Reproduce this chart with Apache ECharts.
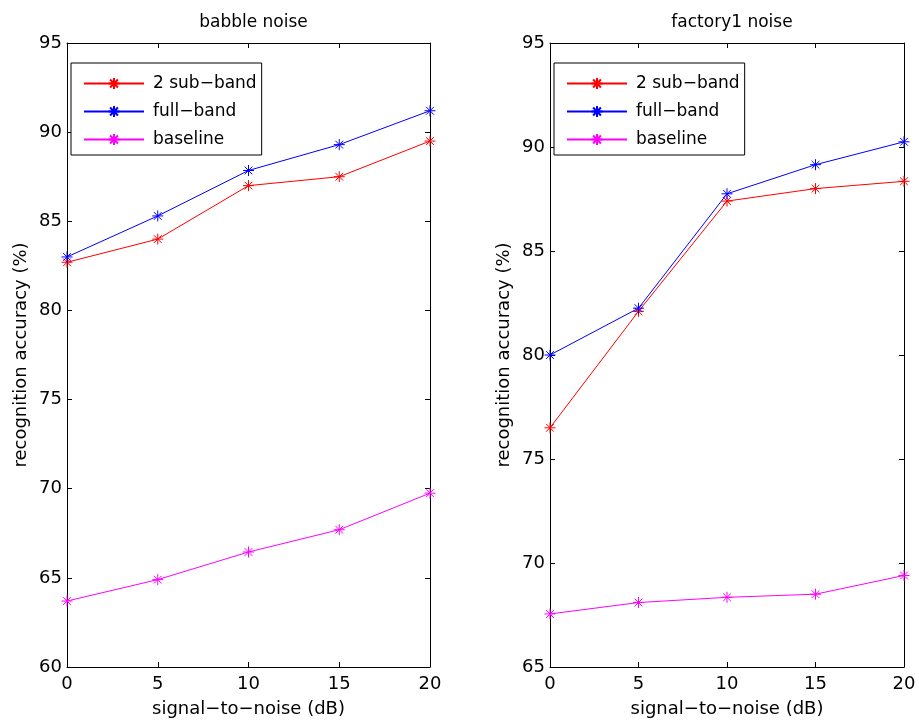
<!DOCTYPE html>
<html>
<head>
<meta charset="utf-8">
<script src="https://cdn.jsdelivr.net/npm/echarts@6/dist/echarts.min.js"></script>
<style>
  html, body { margin: 0; padding: 0; background: #fff; }
  #chart { width: 919px; height: 724px; }
</style>
</head>
<body>
<div id="chart"></div>
<script>
// SNR levels (dB) shared by both panels
const snr = [0, 5, 10, 15, 20];

// babble noise panel
const babbleSubBand  = [82.7, 84.0, 87.0, 87.5, 89.5];
const babbleFullBand = [83.0, 85.3, 87.85, 89.3, 91.2];
const babbleBaseline = [63.7, 64.9, 66.45, 67.7, 69.75];

// factory1 noise panel
const factorySubBand  = [76.5, 82.1, 87.4, 88.0, 88.35];
const factoryFullBand = [80.0, 82.25, 87.75, 89.15, 90.25];
const factoryBaseline = [67.55, 68.1, 68.35, 68.5, 69.4];

const seriesNames = ['2 sub\u2212band', 'full\u2212band', 'baseline'];
const seriesColors = ['#ff0000', '#0000ff', '#ff00ff'];
const panelTitles = ['babble noise', 'factory1 noise'];
const xLabel = 'signal\u2212to\u2212noise (dB)';
const yLabel = 'recognition accuracy (%)';

// eight-spoke asterisk marker
const asterisk = 'path://M0,-10L0,10M-10,0L10,0M-7,-7L7,7M-7,7L7,-7';

const FONT = 'DejaVu Sans, Verdana, sans-serif';

const grids = [
  { left: 67, top: 43, width: 363, height: 624 },
  { left: 550, top: 43, width: 354, height: 624 }
];
const yRanges = [[60, 95], [65, 95]];
const panelData = [
  [babbleSubBand, babbleFullBand, babbleBaseline],
  [factorySubBand, factoryFullBand, factoryBaseline]
];

const axisLine = { show: true, onZero: false, lineStyle: { color: '#000', width: 1 } };
const axisTick = { show: true, inside: true, length: 5, lineStyle: { color: '#000', width: 1 } };
const label = { color: '#000', fontSize: 18, fontFamily: FONT };
const nameStyle = { color: '#000', fontSize: 18, fontFamily: FONT };

const xAxes = [], yAxes = [], series = [], titles = [], legends = [];

grids.forEach((g, gi) => {
  // bottom axis with labels, top axis as box edge with ticks
  xAxes.push({
    gridIndex: gi, type: 'value', min: 0, max: 20, interval: 5, position: 'bottom',
    axisLine, axisTick, splitLine: { show: false },
    axisLabel: Object.assign({ margin: 8 }, label),
    name: xLabel, nameLocation: 'middle', nameGap: 33, nameTextStyle: nameStyle
  });
  xAxes.push({
    gridIndex: gi, type: 'value', min: 0, max: 20, interval: 5, position: 'top',
    axisLine, axisTick, splitLine: { show: false }, axisLabel: { show: false }
  });
  yAxes.push({
    gridIndex: gi, type: 'value', min: yRanges[gi][0], max: yRanges[gi][1], interval: 5,
    position: 'left', axisLine, axisTick, splitLine: { show: false },
    axisLabel: Object.assign({ margin: 5 }, label),
    name: yLabel, nameLocation: 'middle', nameGap: 37, nameTextStyle: nameStyle
  });
  yAxes.push({
    gridIndex: gi, type: 'value', min: yRanges[gi][0], max: yRanges[gi][1], interval: 5,
    position: 'right', axisLine, axisTick, splitLine: { show: false }, axisLabel: { show: false }
  });

  titles.push({
    text: panelTitles[gi],
    left: g.left + g.width / 2, top: 9, textAlign: 'center',
    textStyle: { color: '#000', fontSize: 17, fontWeight: 'normal', fontFamily: FONT }
  });

  legends.push({
    orient: 'vertical',
    left: g.left + 4, top: 63,
    padding: [12, 5, 7, 12],
    itemWidth: 60, itemHeight: 14, itemGap: 11,
    backgroundColor: '#fff', borderColor: '#000', borderWidth: 1,
    selectedMode: false,
    textStyle: { color: '#000', fontSize: 17, fontFamily: FONT, padding: [0, 0, 0, 4] },
    data: seriesNames.map(n => ({ name: n }))
  });

  panelData[gi].forEach((vals, si) => {
    series.push({
      name: seriesNames[si], type: 'line',
      xAxisIndex: gi * 2, yAxisIndex: gi * 2,
      data: snr.map((x, i) => [x, vals[i]]),
      symbol: asterisk, symbolSize: 11,
      lineStyle: { color: seriesColors[si], width: 1 },
      itemStyle: { color: 'none', borderColor: seriesColors[si], borderWidth: 1 },
      emphasis: { disabled: true },
      animation: false, z: 3
    });
  });
});

const chart = echarts.init(document.getElementById('chart'), null, { renderer: 'canvas' });
chart.setOption({
  backgroundColor: '#fff',
  animation: false,
  title: titles,
  legend: legends,
  grid: grids,
  xAxis: xAxes,
  yAxis: yAxes,
  series
});
</script>
</body>
</html>
